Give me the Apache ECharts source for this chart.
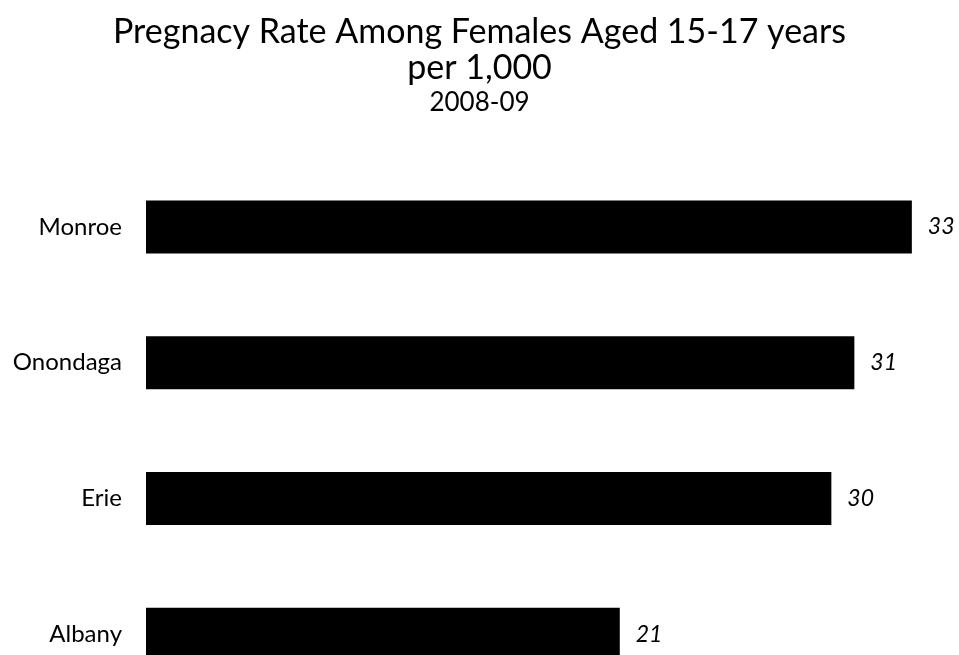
<!DOCTYPE html>
<html>
<head>
<meta charset="utf-8">
<script src="https://cdn.jsdelivr.net/npm/echarts@6/dist/echarts.min.js"></script>
<style>
  html, body { margin: 0; padding: 0; background: #fff; overflow: hidden; }
  /* 最后一根条形在原图底部被截断，所以画布比窗口高 */
  #chart { width: 959px; height: 702px; }
</style>
</head>
<body>
<div id="chart"></div>
<script>
// 数据
const counties = ['Monroe', 'Onondaga', 'Erie', 'Albany']
const rates = [33.3, 30.8, 29.8, 20.6]

const titleLine1 = 'Pregnacy Rate Among Females Aged 15-17 years'
const titleLine2 = 'per 1,000'
const subTitle = '2008-09'

const FONT = 'Lato'

const chartInstance = echarts.init(document.getElementById('chart'))

const titleStyle = (size, lh) => ({
  fontFamily: FONT,
  fontSize: size,
  fontWeight: 'normal',
  color: '#000',
  lineHeight: lh
})

const option = {
  animation: false,
  title: [
    {text: titleLine1 + '\n' + titleLine2, left: 'center', top: 14, padding: 0, textStyle: titleStyle(34, 36)},
    {text: subTitle, left: 'center', top: 90, padding: 0, textStyle: titleStyle(26, 26)}
  ],
  grid: {
    left: 146,
    right: 0,
    top: 159,
    bottom: 0,
    containLabel: false
  },
  xAxis: {
    type: 'value',
    min: 0,
    max: 35.35,
    show: false
  },
  yAxis: {
    type: 'category',
    data: counties,
    inverse: true,
    axisLine: {show: false},
    axisTick: {show: false},
    axisLabel: {
      margin: 24,
      fontFamily: FONT,
      fontSize: 24,
      color: '#000'
    }
  },
  series: [
    {
      type: 'bar',
      data: rates,
      barWidth: 53,
      itemStyle: {color: '#000'},
      label: {
        show: true,
        position: 'right',
        distance: 16,
        fontFamily: FONT,
        fontSize: 23,
        fontStyle: 'italic',
        color: '#000',
        formatter: (p) => Math.round(p.value)
      }
    }
  ]
}

chartInstance.setOption(option)
</script>
</body>
</html>
